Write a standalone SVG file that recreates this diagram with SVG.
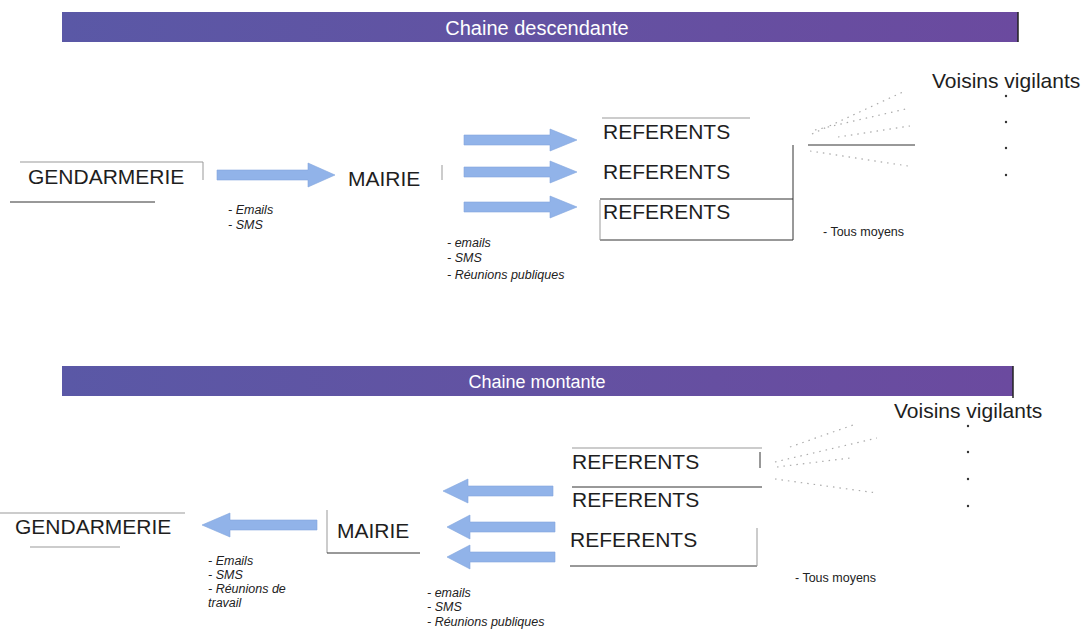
<svg xmlns="http://www.w3.org/2000/svg" width="1086" height="634" viewBox="0 0 1086 634">
<defs>
<linearGradient id="band" x1="0" y1="0" x2="1" y2="0">
<stop offset="0" stop-color="#5a58a6"/>
<stop offset="0.5" stop-color="#6352a2"/>
<stop offset="1" stop-color="#6b4a9f"/>
</linearGradient>
<style>
.bandtxt{font-family:"Liberation Sans",Arial,sans-serif;fill:#ffffff;text-anchor:middle}
.big{font-family:"Liberation Sans",Arial,sans-serif;font-size:21px;fill:#1e1e1e}
.small{font-family:"Liberation Sans",Arial,sans-serif;font-size:12.5px;font-style:italic;fill:#222}
.tous{font-family:"Liberation Sans",Arial,sans-serif;font-size:12.5px;fill:#222}
.ln{stroke:#333;stroke-width:1;fill:none}
.lt{stroke:#999;stroke-width:1;fill:none}
.dot{stroke:#aaa;stroke-width:1.2;stroke-dasharray:1.5 5;fill:none}
.arr{fill:#91b3e9;stroke:#83a6de;stroke-width:0.6}
.bul{fill:#333}
</style>
</defs>
<rect width="1086" height="634" fill="#ffffff"/>

<g id="banner-descendante">
<rect x="62" y="12" width="956" height="30" fill="url(#band)"/>
<line x1="1018" y1="12" x2="1018" y2="42" stroke="#222" stroke-width="1.5"/>
<text class="bandtxt" x="537" y="35" font-size="20">Chaine descendante</text>
</g>

<g id="gendarmerie-top">
<line class="lt" x1="20" y1="162" x2="203" y2="162"/>
<line class="lt" x1="203" y1="162" x2="203" y2="180"/>
<line class="ln" x1="10" y1="202" x2="155" y2="202"/>
<text class="big" x="28" y="184">GENDARMERIE</text>
</g>

<g id="mairie-top">
<text class="big" x="348" y="186">MAIRIE</text>
<line class="lt" x1="442" y1="165" x2="442" y2="180"/>
</g>

<g id="referents-top">
<line class="lt" x1="602" y1="118" x2="750" y2="118"/>
<line class="ln" x1="600" y1="199" x2="793" y2="199"/>
<line class="ln" x1="600" y1="240" x2="793" y2="240"/>
<line class="ln" x1="793" y1="145" x2="793" y2="240"/>
<line class="lt" x1="600" y1="200" x2="600" y2="240"/>
<text class="big" x="603" y="139">REFERENTS</text>
<text class="big" x="603" y="179">REFERENTS</text>
<text class="big" x="603" y="219">REFERENTS</text>
</g>

<g id="voisins-top">
<text class="big" x="932" y="88">Voisins vigilants</text>
<circle class="bul" cx="1006" cy="96" r="1.2"/>
<circle class="bul" cx="1006" cy="122" r="1.2"/>
<circle class="bul" cx="1006" cy="148" r="1.2"/>
<circle class="bul" cx="1006" cy="175" r="1.2"/>
</g>

<g id="banner-montante">
<rect x="62" y="366" width="951" height="30" fill="url(#band)"/>
<line x1="1013" y1="366" x2="1013" y2="398" stroke="#222" stroke-width="1.5"/>
<text class="bandtxt" x="537" y="388" font-size="18">Chaine montante</text>
</g>

<g id="gendarmerie-bottom">
<line class="lt" x1="0" y1="513" x2="185" y2="513"/>
<line class="lt" x1="30" y1="547" x2="120" y2="547"/>
<text class="big" x="15" y="534">GENDARMERIE</text>
</g>

<g id="mairie-bottom">
<line class="lt" x1="327" y1="510" x2="327" y2="553"/>
<line class="ln" x1="327" y1="553" x2="420" y2="553"/>
<text class="big" x="337" y="538">MAIRIE</text>
</g>

<g id="referents-bottom">
<line class="lt" x1="572" y1="448" x2="762" y2="448"/>
<line class="ln" x1="760" y1="452" x2="760" y2="468"/>
<line class="ln" x1="572" y1="487" x2="762" y2="487"/>
<line class="ln" x1="570" y1="566" x2="757" y2="566"/>
<line class="lt" x1="757" y1="528" x2="757" y2="566"/>
<text class="big" x="572" y="469">REFERENTS</text>
<text class="big" x="572" y="507">REFERENTS</text>
<text class="big" x="570" y="547">REFERENTS</text>
</g>

<g id="voisins-bottom">
<text class="big" x="894" y="418">Voisins vigilants</text>
<circle class="bul" cx="968" cy="426" r="1.2"/>
<circle class="bul" cx="968" cy="452" r="1.2"/>
<circle class="bul" cx="968" cy="479" r="1.2"/>
<circle class="bul" cx="968" cy="506" r="1.2"/>
</g>

<g id="connectors">
<polygon class="arr" points="217,170 308,170 308,163 335,175 308,187 308,180 217,180"/>
<polygon class="arr" points="464,135 550,135 550,129 577,140 550,151 550,145 464,145"/>
<polygon class="arr" points="464,167 550,167 550,161 577,172 550,183 550,177 464,177"/>
<polygon class="arr" points="464,202 550,202 550,196 577,207 550,218 550,212 464,212"/>
<line class="ln" x1="808" y1="145" x2="915" y2="145"/>
<line class="dot" x1="812" y1="134" x2="905" y2="91"/>
<line class="dot" x1="815" y1="130" x2="910" y2="108"/>
<line class="dot" x1="838" y1="137" x2="910" y2="126"/>
<line class="dot" x1="810" y1="151" x2="908" y2="166"/>

<polygon class="arr" points="317,520 230,520 230,513 202,525 230,537 230,530 317,530"/>
<polygon class="arr" points="553,486 468,486 468,479 443,491 468,503 468,496 553,496"/>
<polygon class="arr" points="555,522 470,522 470,515 447,527 470,539 470,532 555,532"/>
<polygon class="arr" points="555,552 470,552 470,545 447,557 470,569 470,562 555,562"/>
<line class="dot" x1="790" y1="447" x2="853" y2="425"/>
<line class="dot" x1="775" y1="462" x2="877" y2="438"/>
<line class="dot" x1="777" y1="467" x2="850" y2="458"/>
<line class="dot" x1="775" y1="479" x2="877" y2="493"/>
</g>

<g id="labels">
<text class="small" x="228" y="214">- Emails</text>
<text class="small" x="228" y="229">- SMS</text>
<text class="small" x="447" y="247">- emails</text>
<text class="small" x="447" y="262">- SMS</text>
<text class="small" x="447" y="279">- Réunions publiques</text>
<text class="tous" x="823" y="236">- Tous moyens</text>

<text class="small" x="208" y="565">- Emails</text>
<text class="small" x="208" y="579">- SMS</text>
<text class="small" x="208" y="593">- Réunions de</text>
<text class="small" x="208" y="607">travail</text>
<text class="small" x="427" y="597">- emails</text>
<text class="small" x="427" y="611">- SMS</text>
<text class="small" x="427" y="626">- Réunions publiques</text>
<text class="tous" x="795" y="582">- Tous moyens</text>
</g>
</svg>
